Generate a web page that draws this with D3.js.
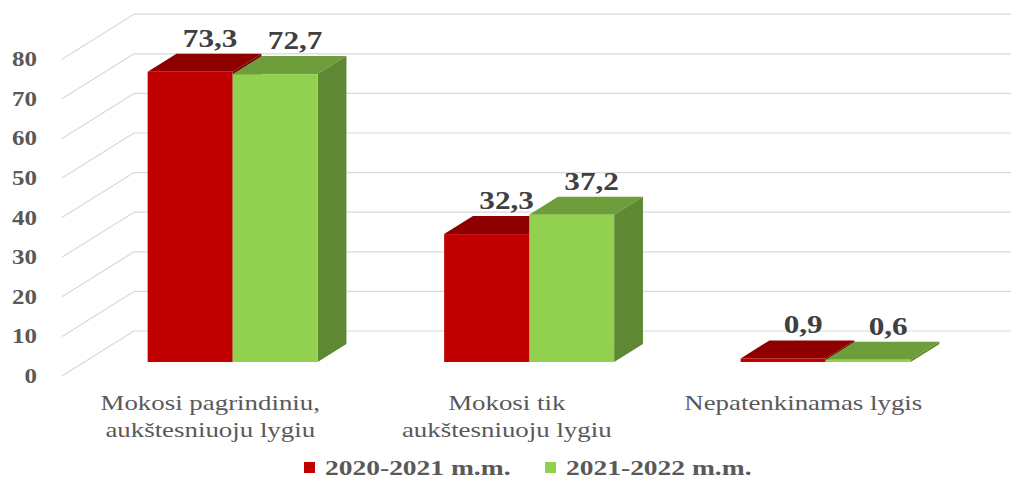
<!DOCTYPE html>
<html><head><meta charset="utf-8">
<script src="https://cdn.jsdelivr.net/npm/d3@7"></script>
<style>body{margin:0;background:#fff}svg{display:block}</style>
</head><body>
<svg id="c" width="1011" height="478"></svg>
<script>
const categories = [["Mokosi pagrindiniu,", "aukštesniuoju lygiu"], ["Mokosi tik", "aukštesniuoju lygiu"], ["Nepatenkinamas lygis"]];
const seriesNames = ["2020-2021 m.m.", "2021-2022 m.m."];
const values2020 = [73.3, 32.3, 0.9];
const values2021 = [72.7, 37.2, 0.6];
const valueLabels2020 = ["73,3", "32,3", "0,9"];
const valueLabels2021 = ["72,7", "37,2", "0,6"];
const yTicks = [0, 10, 20, 30, 40, 50, 60, 70, 80];

const svg = d3.select("#c");
const SX = 1.25; // horizontal text stretch
const font = "'Liberation Serif','Times New Roman',serif";
const colors = [
  {front: "#C00000", top: "#8E0000", side: "#7A0000"},
  {front: "#92D050", top: "#6E9E3C", side: "#5E8832"}
];

const DX = 72, DY = -45; // full depth projection
const y = d3.scaleLinear().domain([0, 80]).range([376, 59.2]);
const x0 = d3.scaleBand().domain(d3.range(categories.length)).range([62, 951.5]);
const x1 = d3.scaleBand().domain([0, 1]).range([63.25, 233.25]);
const d0 = 0.311, d1 = 0.711;

function stxt(g, tx, ty, str, opts) {
  return g.append("text")
    .attr("transform", `translate(${tx},${ty}) scale(${SX},1)`)
    .attr("font-family", font)
    .attr("font-size", opts.size)
    .attr("font-weight", opts.weight || "normal")
    .attr("fill", opts.fill)
    .attr("text-anchor", opts.anchor || "middle")
    .text(str);
}

// gridlines
const grid = svg.append("g");
yTicks.forEach(v => {
  const yf = y(v);
  grid.append("line").attr("x1", 62).attr("y1", yf).attr("x2", 62 + DX).attr("y2", yf + DY)
    .attr("stroke", "#d9d9d9").attr("stroke-width", 1.2);
  grid.append("line").attr("x1", 62 + DX).attr("y1", yf + DY).attr("x2", 1011).attr("y2", yf + DY)
    .attr("stroke", "#d9d9d9").attr("stroke-width", 1.2);
});

// y tick labels
const ax = svg.append("g");
yTicks.forEach(v => {
  stxt(ax, 37, y(v) + 7, String(v), {size: 20, weight: "bold", fill: "#595959", anchor: "end"});
});

// bars
const series = [values2020, values2021];
const labels = [valueLabels2020, valueLabels2021];
const bars = svg.append("g");
const lbls = svg.append("g");
categories.forEach((c, i) => {
  [0, 1].forEach(s => {
    const v = series[s][i];
    const xl = x0(i) + x1(s) + DX * d0;
    const xr = xl + x1.bandwidth();
    const yb = y(0) + DY * d0;
    const yt = y(v) + DY * d0;
    const ox = DX * (d1 - d0), oy = DY * (d1 - d0);
    const col = colors[s];
    bars.append("path").attr("d", `M${xl},${yt}L${xr},${yt}L${xr + ox},${yt + oy}L${xl + ox},${yt + oy}Z`).attr("fill", col.top);
    bars.append("path").attr("d", `M${xr},${yt}L${xr + ox},${yt + oy}L${xr + ox},${yb + oy}L${xr},${yb}Z`).attr("fill", col.side);
    bars.append("rect").attr("x", xl).attr("y", yt).attr("width", x1.bandwidth()).attr("height", Math.max(yb - yt, 0.1)).attr("fill", col.front);
    stxt(lbls, (xl + xr) / 2 + 20, yt + oy - 16 + 9, labels[s][i], {size: 25, weight: "bold", fill: "#404040"});
  });
  const cx = x0(i) + x0.bandwidth() / 2;
  c.forEach((line, k) => {
    stxt(svg, cx, 410 + k * 27, line, {size: 21.5, fill: "#595959"});
  });
});

// legend
const lg = svg.append("g");
const legendX = [304, 545];
seriesNames.forEach((n, s) => {
  lg.append("rect").attr("x", legendX[s]).attr("y", 462).attr("width", 11).attr("height", 11).attr("fill", colors[s].front);
  stxt(lg, legendX[s] + 21, 475, n, {size: 22, weight: "bold", fill: "#595959", anchor: "start"});
});
</script>
</body></html>
